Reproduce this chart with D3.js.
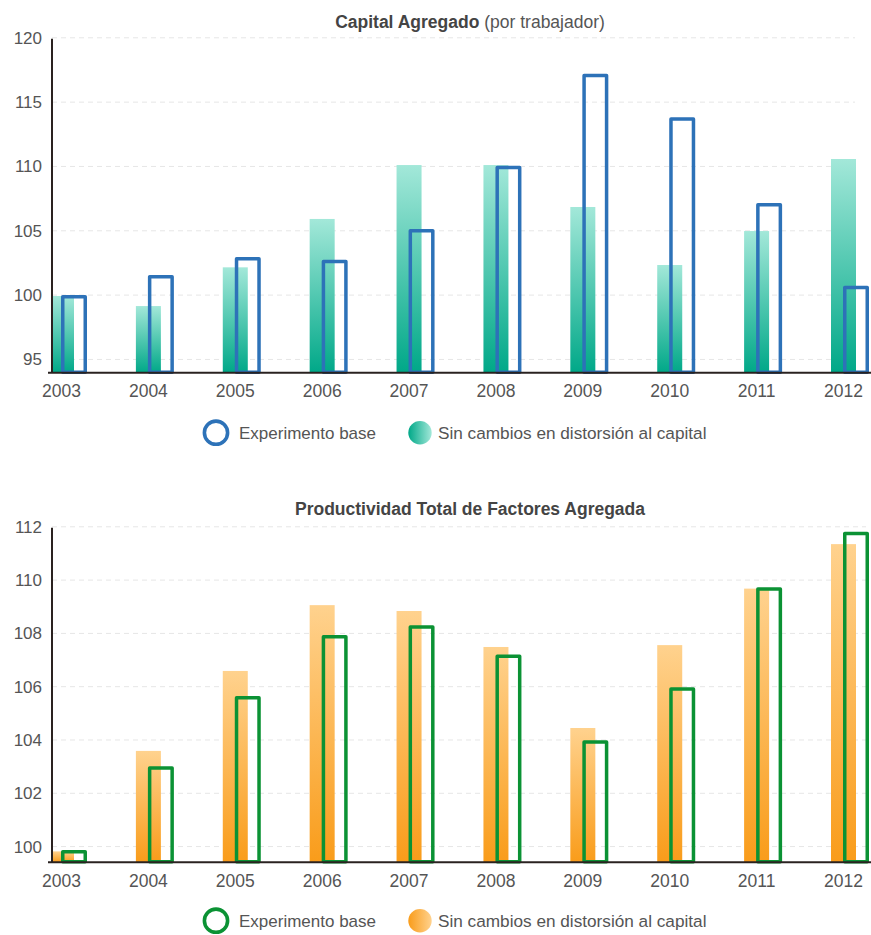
<!DOCTYPE html>
<html lang="es">
<head>
<meta charset="utf-8">
<script src="https://cdn.jsdelivr.net/npm/d3@7/dist/d3.min.js"></script>
<style>
  html, body { margin: 0; padding: 0; background: #fff; }
  svg { display: block; font-family: "Liberation Sans", Arial, Helvetica, sans-serif; }
</style>
</head>
<body>
<svg id="chart" width="871" height="935"></svg>
<script>
// Años
const years = ["2003", "2004", "2005", "2006", "2007", "2008", "2009", "2010", "2011", "2012"];

// Capital agregado por trabajador (índice)
const capitalBase       = [100.0, 101.56, 102.96, 102.75, 105.14, 110.06, 117.21, 113.82, 107.16, 100.73];
const capitalSinCambios = [99.93, 99.15, 102.16, 105.92, 110.11, 110.11, 106.85, 102.34, 104.98, 110.58];
const capitalTicks      = [95, 100, 105, 110, 115, 120];

// Productividad total de factores agregada (índice)
const ptfBase       = [99.87, 103.01, 105.65, 107.94, 108.31, 107.21, 103.99, 105.98, 109.73, 111.81];
const ptfSinCambios = [99.82, 103.59, 106.59, 109.06, 108.84, 107.49, 104.45, 107.56, 109.68, 111.35];
const ptfTicks      = [100, 102, 104, 106, 108, 110, 112];

const legendBase = "Experimento base";
const legendSin  = "Sin cambios en distorsión al capital";

const svg = d3.select("#chart");
const defs = svg.append("defs");

function verticalGradient(id, top, bottom) {
  const g = defs.append("linearGradient").attr("id", id)
    .attr("x1", 0).attr("y1", 0).attr("x2", 0).attr("y2", 1);
  g.append("stop").attr("offset", "0%").attr("stop-color", top);
  g.append("stop").attr("offset", "100%").attr("stop-color", bottom);
}
function horizontalGradient(id, left, right) {
  const g = defs.append("linearGradient").attr("id", id)
    .attr("x1", 0).attr("y1", 0).attr("x2", 1).attr("y2", 0);
  g.append("stop").attr("offset", "0%").attr("stop-color", left);
  g.append("stop").attr("offset", "100%").attr("stop-color", right);
}
verticalGradient("tealBar", "#a3e8d9", "#00a888");
horizontalGradient("tealDot", "#00a888", "#a3e8d9");
verticalGradient("orangeBar", "#ffd28e", "#f99c1a");
horizontalGradient("orangeDot", "#f99c1a", "#ffd28e");

const x = d3.scalePoint().domain(years).range([61, 843]);
const axisX = 52;

function drawChart(cfg) {
  const g = svg.append("g");
  const y = d3.scaleLinear().domain(cfg.domain).range([cfg.bottom, cfg.top]);

  // título
  const title = g.append("text")
    .attr("x", 470).attr("y", cfg.titleY)
    .attr("text-anchor", "middle")
    .attr("font-size", 17.5).attr("fill", "#444");
  title.append("tspan").attr("font-weight", "bold").text(cfg.title);
  if (cfg.subtitle) {
    title.append("tspan").attr("font-weight", "normal").attr("fill", "#555").text(" " + cfg.subtitle);
  }

  // líneas de cuadrícula
  g.append("g").selectAll("line").data(cfg.ticks).join("line")
    .attr("x1", axisX).attr("x2", cfg.gridRight)
    .attr("y1", d => y(d)).attr("y2", d => y(d))
    .attr("stroke", "#e6e6e6").attr("stroke-width", 1)
    .attr("stroke-dasharray", "5,4");

  // eje Y (etiquetas)
  const yAxis = g.append("g")
    .attr("transform", `translate(${axisX},0)`)
    .call(d3.axisLeft(y).tickValues(cfg.ticks).tickSize(0).tickPadding(10).tickFormat(d3.format("d")));
  yAxis.select(".domain").remove();
  yAxis.selectAll("text").attr("font-size", 17).attr("fill", "#555")
    .attr("font-family", "Liberation Sans, Arial, sans-serif");

  const clipId = "clip-" + cfg.id;
  defs.append("clipPath").attr("id", clipId)
    .append("rect").attr("x", axisX + 1).attr("y", 0).attr("width", 871).attr("height", cfg.bottom);

  // barras sólidas con degradado
  g.append("g").attr("clip-path", `url(#${clipId})`)
    .selectAll("rect").data(cfg.filled).join("rect")
    .attr("x", (d, i) => x(years[i]) - 12)
    .attr("width", 25)
    .attr("y", d => y(d))
    .attr("height", d => cfg.bottom - y(d))
    .attr("fill", `url(#${cfg.barGradient})`);

  // barras de contorno
  const sw = 3.5;
  g.append("g").selectAll("rect").data(cfg.outline).join("rect")
    .attr("x", (d, i) => x(years[i]) + sw / 2)
    .attr("width", 26 - sw)
    .attr("y", d => y(d) + sw / 2)
    .attr("height", d => cfg.bottom - y(d) - sw / 2 - 0.5)
    .attr("fill", "none")
    .attr("stroke", cfg.outlineColor).attr("stroke-width", sw)
    .attr("stroke-linejoin", "round");

  // ejes
  g.append("line")
    .attr("x1", axisX).attr("x2", axisX)
    .attr("y1", cfg.top + 1).attr("y2", cfg.bottom)
    .attr("stroke", "#2a2220").attr("stroke-width", 2);
  g.append("line")
    .attr("x1", axisX - 4).attr("x2", 871)
    .attr("y1", cfg.bottom).attr("y2", cfg.bottom)
    .attr("stroke", "#2a2220").attr("stroke-width", 2);

  // eje X (años)
  const xAxis = g.append("g")
    .attr("transform", `translate(0,${cfg.bottom})`)
    .call(d3.axisBottom(x).tickSize(0).tickPadding(12));
  xAxis.select(".domain").remove();
  xAxis.selectAll("text").attr("font-size", 17.5).attr("fill", "#555")
    .attr("font-family", "Liberation Sans, Arial, sans-serif");

  // leyenda
  const lg = g.append("g").attr("transform", `translate(0,${cfg.legendY})`);
  lg.append("circle").attr("cx", 216).attr("cy", 0).attr("r", 11.6)
    .attr("fill", "none").attr("stroke", cfg.outlineColor).attr("stroke-width", 3.6);
  lg.append("text").attr("x", 239).attr("y", 6).attr("font-size", 17).attr("fill", "#555").text(legendBase);
  lg.append("circle").attr("cx", 420).attr("cy", 0).attr("r", 11.7)
    .attr("fill", `url(#${cfg.dotGradient})`);
  lg.append("text").attr("x", 438).attr("y", 6).attr("font-size", 17.2).attr("fill", "#555").text(legendSin);
}

drawChart({
  id: "capital",
  title: "Capital Agregado",
  subtitle: "(por trabajador)",
  titleY: 28,
  domain: [93.97, 120],
  top: 37.8, bottom: 372.7,
  ticks: capitalTicks,
  gridRight: 855,
  filled: capitalSinCambios,
  outline: capitalBase,
  barGradient: "tealBar",
  dotGradient: "tealDot",
  outlineColor: "#2d72b8",
  legendY: 432.7
});

drawChart({
  id: "ptf",
  title: "Productividad Total de Factores Agregada",
  subtitle: null,
  titleY: 515,
  domain: [99.41, 112],
  top: 526.8, bottom: 862.3,
  ticks: ptfTicks,
  gridRight: 866,
  filled: ptfSinCambios,
  outline: ptfBase,
  barGradient: "orangeBar",
  dotGradient: "orangeDot",
  outlineColor: "#0b9234",
  legendY: 920.7
});
</script>
</body>
</html>
